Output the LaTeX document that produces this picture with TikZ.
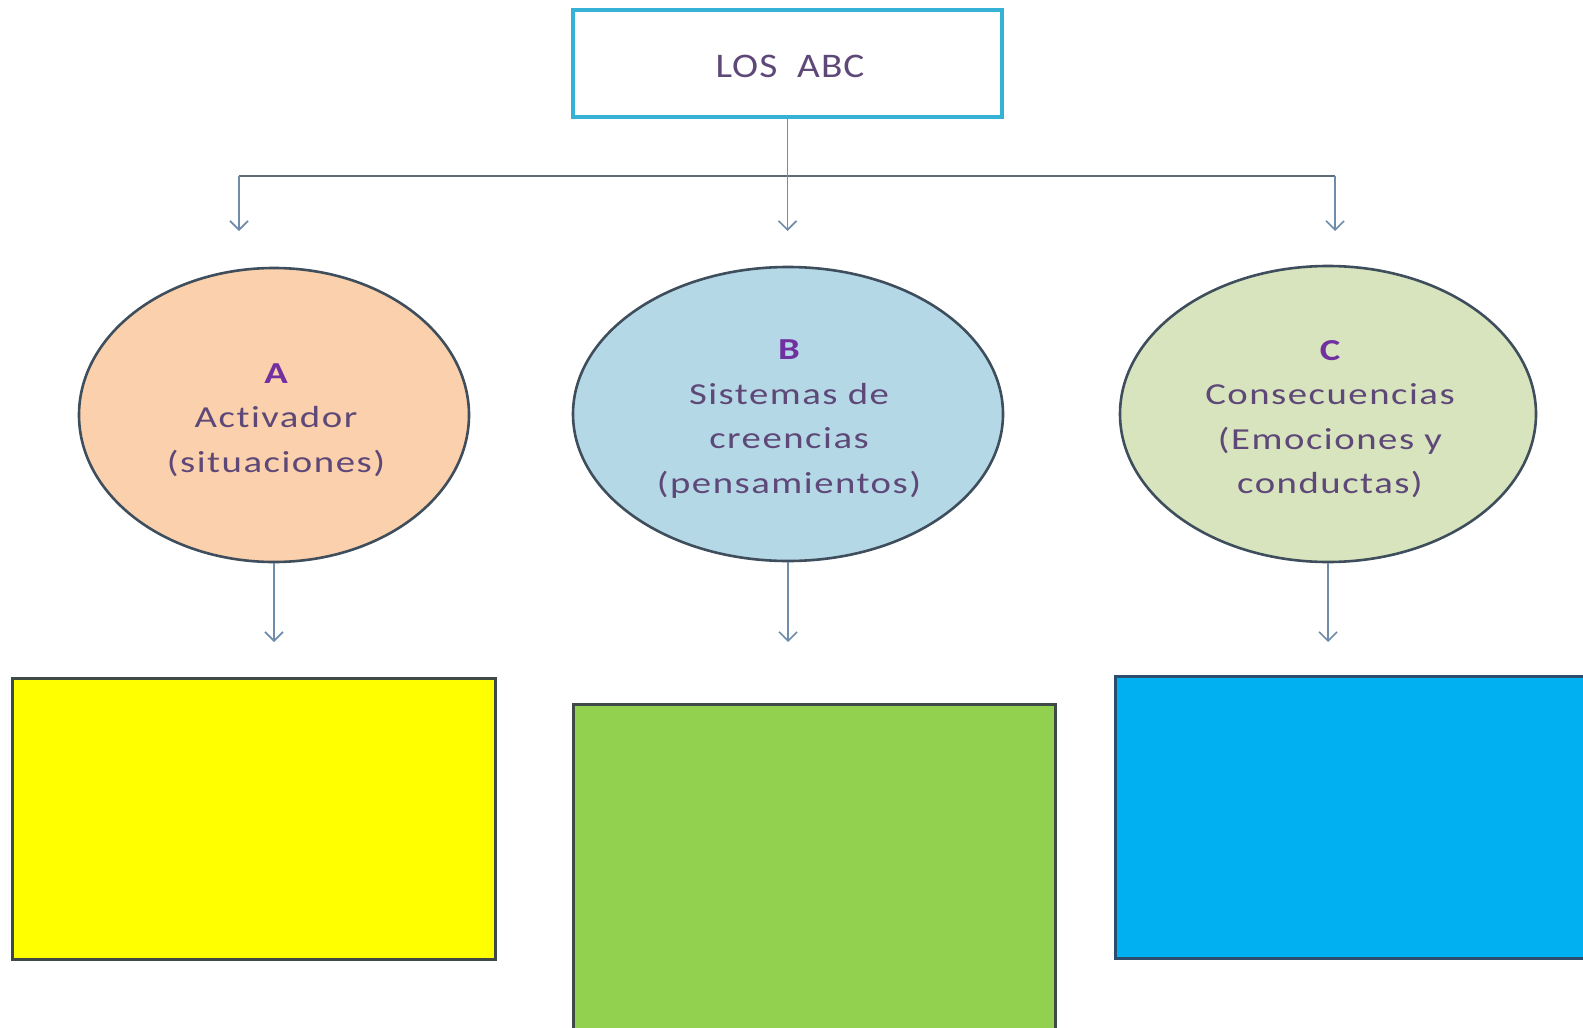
\documentclass[tikz,border=0pt]{standalone}
\usepackage{fontspec}
\setmainfont{Carlito}
\newfontfamily\ellfont[FakeStretch=1.27,LetterSpace=5,Ligatures=NoCommon]{Carlito}
\newfontfamily\topfont[FakeStretch=1.14,LetterSpace=3,Ligatures=NoCommon]{Carlito}
\usetikzlibrary{shapes.geometric,arrows.meta}
\definecolor{txtpurple}{HTML}{5E4878}
\definecolor{letpurple}{HTML}{7030A0}
\definecolor{connblue}{HTML}{6F8CAA}
\definecolor{hlinegray}{HTML}{5E6C78}
\definecolor{ellborder}{HTML}{3E4E5C}
\definecolor{cyanborder}{HTML}{35B2D6}
\definecolor{fillA}{HTML}{FBD0AC}
\definecolor{fillB}{HTML}{B5D8E6}
\definecolor{fillC}{HTML}{D8E4BE}
\definecolor{boxborder}{HTML}{3F4A48}
\definecolor{yellowfill}{HTML}{FFFF00}
\definecolor{greenfill}{HTML}{92D050}
\definecolor{bluefill}{HTML}{00B0F0}
\definecolor{blueborder}{HTML}{2B4E6E}
\tikzset{
  topbox/.style={draw=cyanborder,line width=3.2pt,fill=white,minimum width=429pt,minimum height=107pt,inner sep=0pt},
  toptext/.style={inner sep=0pt,font=\topfont\fontsize{34.5}{40}\selectfont,text=txtpurple},
  ellnode/.style={ellipse,draw=ellborder,line width=2.6pt,inner sep=0pt},
  elltext/.style={inner sep=0pt,align=center,font=\ellfont\fontsize{30.5}{44.5}\selectfont,text=txtpurple},
  arr/.style={draw=connblue,line width=1.6pt,-{Straight Barb[length=9pt,width=18pt,line width=1.6pt]}},
  hline/.style={draw=hlinegray,line width=1.6pt},
  bigbox/.style={draw=boxborder,line width=3pt,inner sep=0pt},
}
\newcommand{\abcletter}[1]{{\bfseries\color{letpurple}#1}}
\begin{document}
\begin{tikzpicture}[x=1pt,y=-1pt]
\clip (0,0) rectangle (1583,1028);
\fill[white] (0,0) rectangle (1583,1028);

% top box
\node[topbox] (T) at (787.5,63.5) {};
\node[toptext] (Tt) at (790,66) {LOS\ \ ABC};

% tree connectors
\coordinate (hl) at (239,176);
\coordinate (hr) at (1335,176);
\coordinate (tA) at (239,231);
\coordinate (tB) at (787.5,231);
\coordinate (tC) at (1335,231);
\draw[hline] (hl) -- (hr);
\draw[arr] (T.south) -- (tB);
\draw[arr] (hl) -- (tA);
\draw[arr] (hr) -- (tC);

% ellipses
\node[ellnode,fill=fillA,minimum width=390pt,minimum height=294pt] (EA) at (274,415) {};
\node[ellnode,fill=fillB,minimum width=430pt,minimum height=294pt] (EB) at (788,414) {};
\node[ellnode,fill=fillC,minimum width=416pt,minimum height=296pt] (EC) at (1328,414) {};
\node[elltext] (EAt) at (276,420) {\abcletter{A}\\Activador\\(situaciones)};
\node[elltext] (EBt) at (789,419) {\abcletter{B}\\Sistemas de\\creencias\\(pensamientos)};
\node[elltext] (ECt) at (1330,419) {\abcletter{C}\\Consecuencias\\(Emociones y\\conductas)};

% arrows down
\coordinate (bA) at (274,642);
\coordinate (bB) at (788,642);
\coordinate (bC) at (1328,642);
\draw[arr] (EA.south) -- (bA);
\draw[arr] (EB.south) -- (bB);
\draw[arr] (EC.south) -- (bC);

% bottom boxes
\node[bigbox,fill=yellowfill,minimum width=483pt,minimum height=281pt] (YB) at (253.5,818.5) {};
\node[bigbox,fill=greenfill,minimum width=482pt,minimum height=341pt] (GB) at (814,874.5) {};
\node[bigbox,draw=blueborder,fill=bluefill,minimum width=485pt,minimum height=282pt] (BB) at (1357.5,817) {};
\end{tikzpicture}
\end{document}
